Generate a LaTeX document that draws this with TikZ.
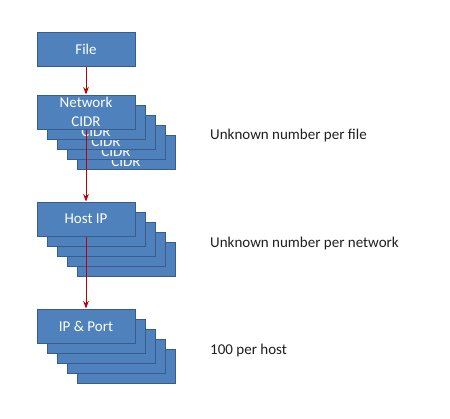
\documentclass[tikz,border=0pt]{standalone}
\usepackage{fontspec}
\setmainfont{Carlito}
\usepackage{tikz}
\usetikzlibrary{positioning, arrows.meta}
\definecolor{boxBlue}{RGB}{79, 129, 189}
\definecolor{boxEdge}{RGB}{56, 93, 138}
\definecolor{flowRed}{RGB}{192, 0, 0}
\definecolor{noteGray}{RGB}{30, 30, 30}

\begin{document}
\begin{tikzpicture}[x=1pt, y=-1pt, >=Stealth,
    layer/.style={draw=boxEdge, line width=1pt, fill=boxBlue, text=white,
        minimum width=98pt, minimum height=34pt, inner sep=0pt, align=center,
        font=\fontsize{15}{19}\selectfont},
    flow/.style={->, draw=flowRed, line width=1pt},
    note/.style={anchor=west, inner sep=0pt, text=noteGray,
        font=\fontsize{15}{18}\selectfont}]
        \useasboundingbox (0,0) rectangle (450,418);

        \node[layer] (file) at (86,49) {File};

        % stacks, back to front
        \foreach \k in {4,3,2,1} {
            \node[layer] (net\k) at (86+10*\k,112+10*\k) {Network\\CIDR};
            \node[layer] (host\k) at (86+10*\k,219+10*\k) {};
            \node[layer] (port\k) at (86+10*\k,326+10*\k) {};
        }
        \node[layer] (net0) at (86,112) {Network\\CIDR};
        \node[layer] (host0) at (86,219) {Host IP};
        \node[layer] (port0) at (86,326) {IP \& Port};

        \draw[flow] (file.south) -- (net0.north);
        \draw[flow] (net0.south) -- (host0.north);
        \draw[flow] (host0.south) -- (port0.north);

        \node[note] (perfile) at (210,135) {Unknown number per file};
        \node[note] (pernet) at (210,243) {Unknown number per network};
        \node[note] (perhost) at (210,350) {100 per host};
    \end{tikzpicture}
\end{document}
